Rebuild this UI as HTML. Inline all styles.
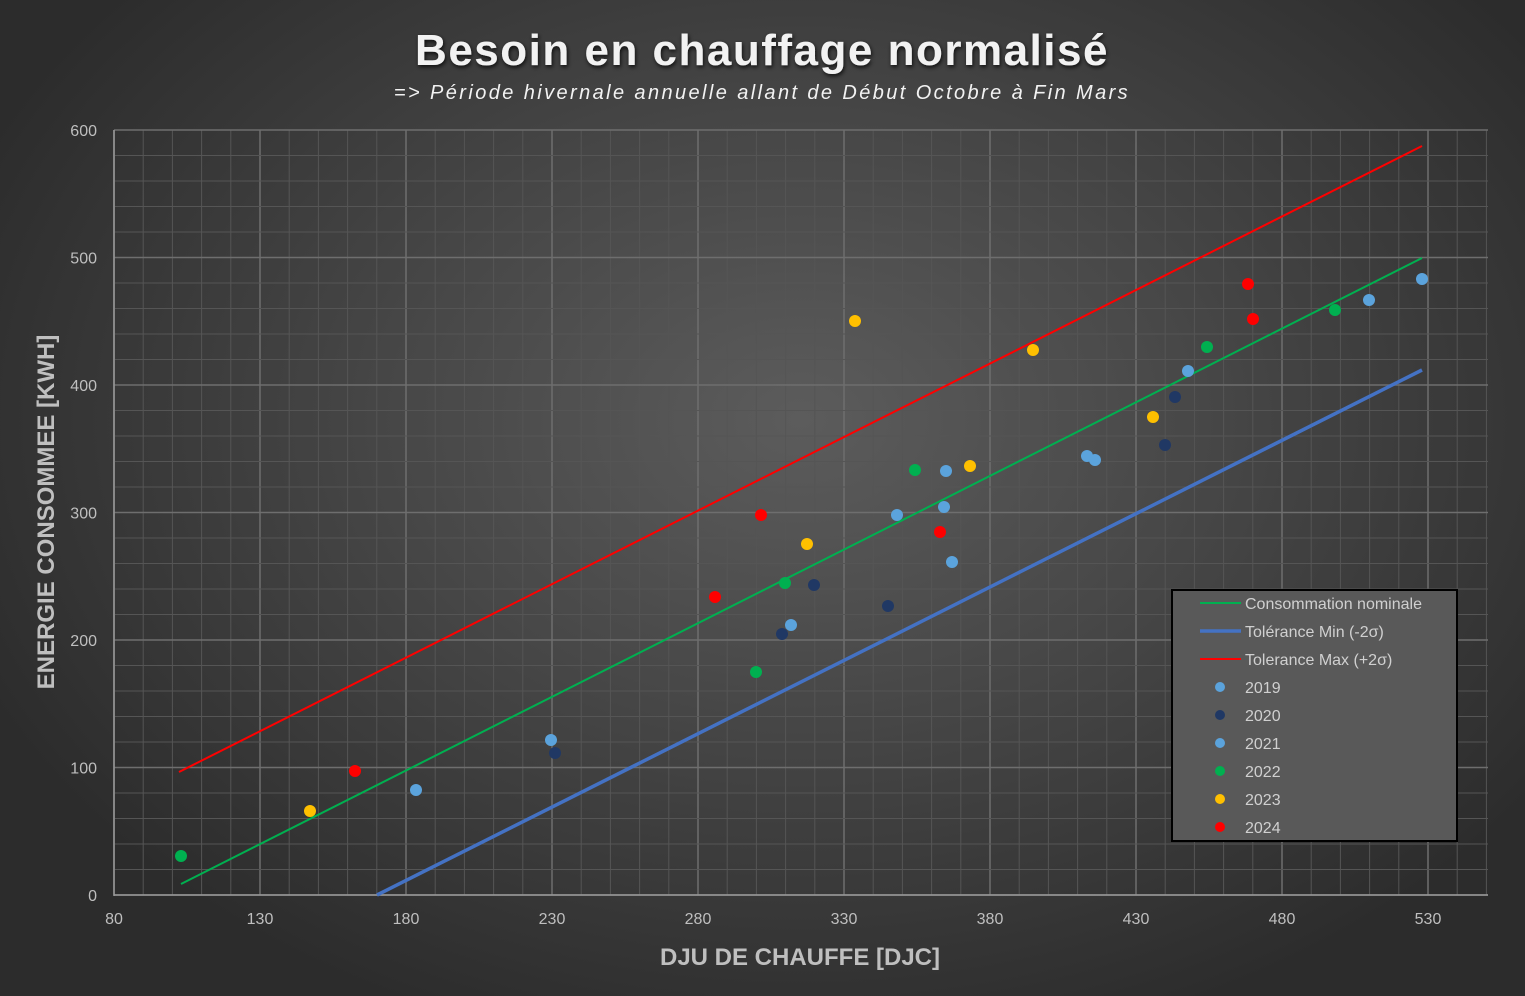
<!DOCTYPE html>
<html><head><meta charset="utf-8"><style>
html,body{margin:0;padding:0}
body{width:1525px;height:996px;overflow:hidden;background:radial-gradient(ellipse 900px 650px at 800px 420px,#5c5c5c 0%,#474747 45%,#2c2c2c 100%);font-family:"Liberation Sans","DejaVu Sans",sans-serif}
svg{position:absolute;left:0;top:0}
</style></head><body>
<svg width="1525" height="996" xmlns="http://www.w3.org/2000/svg">
<defs><filter id="sh"><feDropShadow dx="1" dy="2" stdDeviation="2" flood-color="#000" flood-opacity="0.8"/></filter></defs>
<g id="grid"></g>
<text x="762" y="65" text-anchor="middle" font-size="44" font-weight="bold" fill="#f2f2f2" letter-spacing="1.5" filter="url(#sh)">Besoin en chauffage normalisé</text>
<text x="762" y="99" text-anchor="middle" font-size="20" font-style="italic" fill="#f2f2f2" letter-spacing="2.4">=&gt; Période hivernale annuelle allant de Début Octobre à Fin Mars</text>
<text x="800" y="965" text-anchor="middle" font-size="24" font-weight="bold" fill="#bfbfbf">DJU DE CHAUFFE [DJC]</text>
<text transform="translate(54,512) rotate(-90)" text-anchor="middle" font-size="24" font-weight="bold" fill="#bfbfbf">ENERGIE CONSOMMEE [KWH]</text>
<line x1="181" y1="884" x2="1422" y2="258" stroke="#00B050" stroke-width="2"/>
<line x1="179" y1="772" x2="1422" y2="146" stroke="#FF0000" stroke-width="2"/>
<line x1="377" y1="895" x2="1422" y2="370" stroke="#4472C4" stroke-width="3.5"/>
<g id="pts"></g>
<rect x="1172" y="590" width="285" height="251" fill="#595959" stroke="#000" stroke-width="2"/>
<line x1="1200" y1="603" x2="1241" y2="603" stroke="#00B050" stroke-width="2"/>
<line x1="1200" y1="631" x2="1241" y2="631" stroke="#4472C4" stroke-width="3.5"/>
<line x1="1200" y1="659" x2="1241" y2="659" stroke="#FF0000" stroke-width="2"/>
<g font-size="16" fill="#d0d0d0">
<text x="1245" y="609">Consommation nominale</text>
<text x="1245" y="637">Tolérance Min (-2σ)</text>
<text x="1245" y="665">Tolerance Max (+2σ)</text>
<text x="1245" y="693">2019</text><text x="1245" y="721">2020</text><text x="1245" y="749">2021</text>
<text x="1245" y="777">2022</text><text x="1245" y="805">2023</text><text x="1245" y="833">2024</text>
</g>
<circle cx="1220" cy="687" r="5" fill="#5BA3DC"/><circle cx="1220" cy="715" r="5" fill="#203864"/>
<circle cx="1220" cy="743" r="5" fill="#5BA3DC"/><circle cx="1220" cy="771" r="5" fill="#00B050"/>
<circle cx="1220" cy="799" r="5" fill="#FFC000"/><circle cx="1220" cy="827" r="5" fill="#FF0000"/>
</svg>
<script>
const ns="http://www.w3.org/2000/svg";
const g=document.getElementById('grid');
function el(p,t,a,txt){const e=document.createElementNS(ns,t);for(const k in a)e.setAttribute(k,a[k]);if(txt)e.textContent=txt;p.appendChild(e);return e;}
const X=v=>114+(v-80)*2.92, Y=v=>895-v*1.275;
for(let v=80;v<=550;v+=10){const x=X(v);const maj=(v-80)%50==0;
 el(g,'line',{x1:x,y1:130,x2:x,y2:895,stroke:maj?'#6e6e6e':'#555',"stroke-width":maj?1.5:1});
 if(maj&&v<=530)el(g,'text',{x:x,y:924,"text-anchor":"middle","font-size":16,fill:"#bfbfbf"},String(v));}
for(let v=0;v<=600;v+=20){const y=Y(v);const maj=v%100==0;
 el(g,'line',{x1:114,y1:y,x2:1488,y2:y,stroke:maj?'#6e6e6e':'#555',"stroke-width":maj?1.5:1});
 if(maj)el(g,'text',{x:97,y:y+6,"text-anchor":"end","font-size":16,fill:"#bfbfbf"},String(v));}
el(g,'line',{x1:114,y1:130,x2:114,y2:896,stroke:'#999',"stroke-width":1.5});
el(g,'line',{x1:114,y1:895,x2:1488,y2:895,stroke:'#999',"stroke-width":1.5});
const P=document.getElementById('pts');
const data={"#5BA3DC":[[416,790],[551,740],[791,625],[897,515],[944,507],[946,471],[952,562],[1087,456],[1095,460],[1188,371],[1369,300],[1422,279]],
"#203864":[[555,753],[782,634],[814,585],[888,606],[1165,445],[1175,397]],
"#00B050":[[181,856],[756,672],[785,583],[915,470],[1207,347],[1335,310]],
"#FFC000":[[310,811],[807,544],[855,321],[970,466],[1033,350],[1153,417]],
"#FF0000":[[355,771],[715,597],[761,515],[940,532],[1248,284],[1253,319]]};
for(const c in data)for(const [x,y] of data[c])el(P,'circle',{cx:x,cy:y,r:6,fill:c});
</script>
</body></html>
